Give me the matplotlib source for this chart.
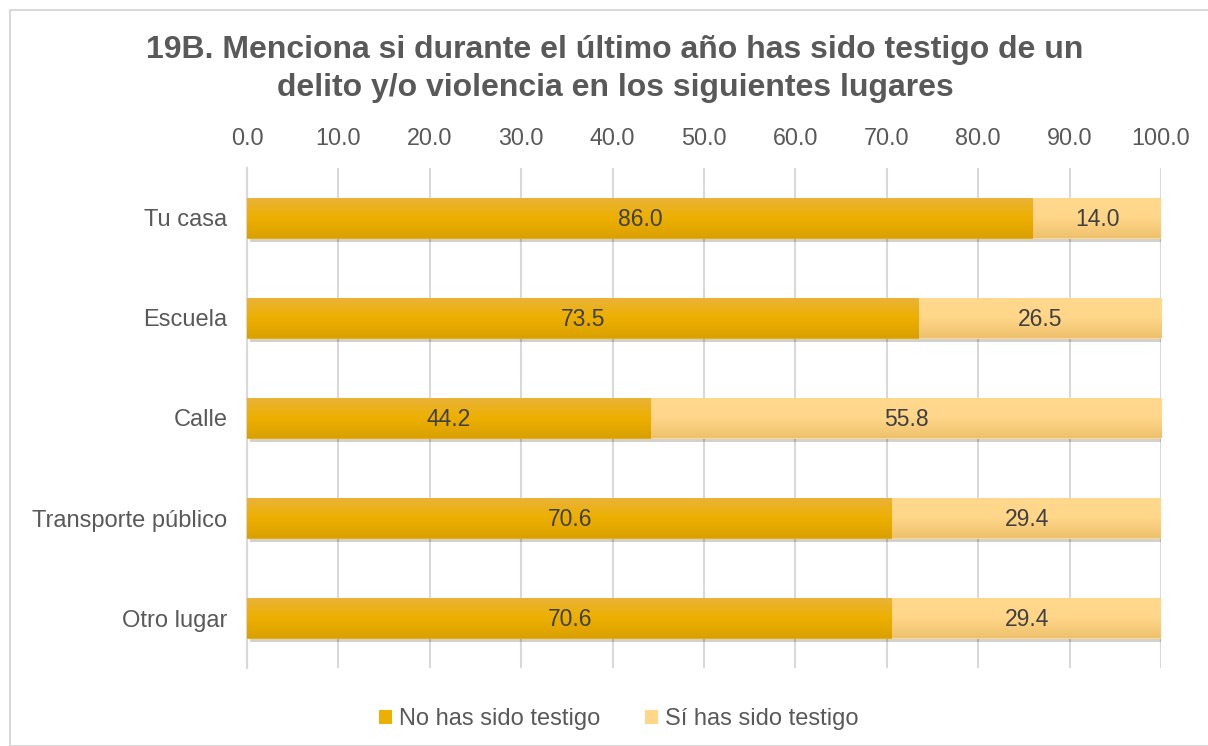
import numpy as np
import matplotlib
matplotlib.use("Agg")
import matplotlib.pyplot as plt
import matplotlib.patheffects as pe
from matplotlib.patches import Rectangle
from matplotlib.colors import LinearSegmentedColormap

plt.rcParams['font.family'] = ['Liberation Sans', 'DejaVu Sans']

categories = ["Tu casa", "Escuela", "Calle", "Transporte público", "Otro lugar"]
no_testigo = [86.0, 73.5, 44.2, 70.6, 70.6]
si_testigo = [14.0, 26.5, 55.8, 29.4, 29.4]
series_names = ["No has sido testigo", "Sí has sido testigo"]
title = "19B. Menciona si durante el último año has sido testigo de un\ndelito y/o violencia en los siguientes lugares"

dark_grad = LinearSegmentedColormap.from_list("d", ["#EAB33C", "#EDB000", "#DAA000"])
light_grad = LinearSegmentedColormap.from_list("l", ["#FFD98E", "#FFD68A", "#EEC16C"])

fig = plt.figure(figsize=(12.08, 7.46), dpi=100)
fig.patches.append(Rectangle((10/1208, 0), 1.2, 1 - 10/746, transform=fig.transFigure,
                             fill=False, edgecolor="#D9D9D9", linewidth=1.5))
ax = fig.add_axes([247/1208, 1 - 668/746, (1161-247)/1208, 500/746])

y = np.arange(len(categories))
h = 0.41
shadow = [pe.SimplePatchShadow(offset=(2, -2.5), shadow_rgbFace="#000000", alpha=0.18), pe.Normal()]
b1 = ax.barh(y, no_testigo, height=h, color="#EDB000", label=series_names[0], zorder=3)
b2 = ax.barh(y, si_testigo, left=no_testigo, height=h, color="#FFD68A", label=series_names[1], zorder=3)

grad = np.linspace(0, 1, 64).reshape(-1, 1)
for bars, cmap in ((b1, dark_grad), (b2, light_grad)):
    for p in bars:
        p.set_path_effects(shadow)
        x0, y0 = p.get_x(), p.get_y()
        w, hh = p.get_width(), p.get_height()
        im = ax.imshow(grad, cmap=cmap, aspect="auto", extent=(x0, x0 + w, y0 + hh, y0),
                       origin="upper", zorder=3.5, interpolation="bilinear")
        im.set_clip_path(p)

for bars, vals in ((b1, no_testigo), (b2, si_testigo)):
    for p, v in zip(bars, vals):
        ax.text(p.get_x() + p.get_width() / 2, p.get_y() + p.get_height() / 2 + 0.02, f"{v:.1f}",
                ha="center", va="center", fontsize=16.5, color="#404040", zorder=5)

ax.set_xlim(0, 100)
ax.set_ylim(4.5, -0.5)
ax.set_xticks(np.arange(0, 101, 10))
ax.set_xticklabels([f"{v:.1f}" for v in np.arange(0, 101, 10)])
ax.xaxis.tick_top()
ax.tick_params(axis="x", length=0, pad=13, labelsize=16.8, labelcolor="#595959")
ax.set_yticks(y)
ax.set_yticklabels(categories)
ax.tick_params(axis="y", length=0, pad=14, labelsize=17, labelcolor="#595959")
ax.grid(axis="x", color="#D9D9D9", linewidth=1.5, zorder=0)
for s in ["top", "right", "bottom"]:
    ax.spines[s].set_visible(False)
ax.spines["left"].set_color("#D9D9D9")
ax.spines["left"].set_linewidth(1.5)
ax.set_axisbelow(True)

fig.text(615/1208, 1 - 69/746, title, ha="center", va="center", fontsize=23,
         fontweight="bold", color="#595959", linespacing=1.32)

leg = fig.legend(handles=[b1, b2], labels=series_names, loc="center", bbox_to_anchor=(619/1208, 1 - 719/746),
                 ncol=2, frameon=False, fontsize=17, handlelength=0.55, handleheight=0.55,
                 handletextpad=0.3, columnspacing=1.9)
for t in leg.get_texts():
    t.set_color("#595959")
for hdl in leg.legend_handles:
    hdl.set_path_effects([])

fig.savefig("out.png", dpi=100)
